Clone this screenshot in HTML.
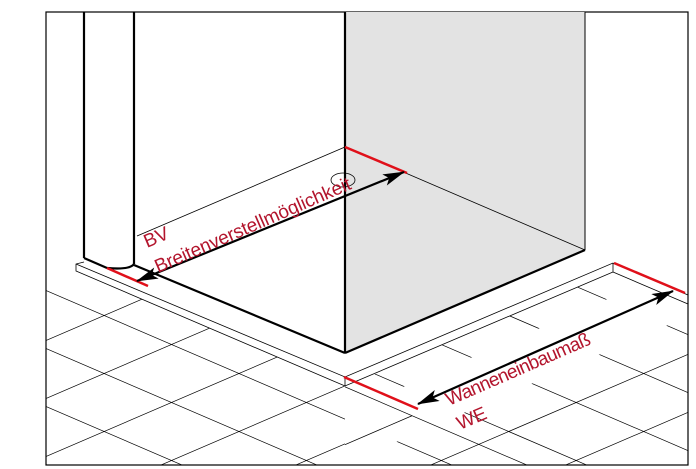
<!DOCTYPE html>
<html><head><meta charset="utf-8"><style>
html,body{margin:0;padding:0;background:#fff;width:696px;height:469px;overflow:hidden}
svg{display:block}
text{font-family:"Liberation Sans",sans-serif;fill:#b3152d;font-size:19px}
</style></head><body>
<svg width="696" height="469" viewBox="0 0 696 469" xmlns="http://www.w3.org/2000/svg">
<defs>
<clipPath id="fl"><polygon points="46,287 76,272 76,271 345,386 345,465 46,465"/></clipPath>
<clipPath id="ra"><polygon points="345,464 688,316.4 688,465 345,465"/></clipPath>
<clipPath id="rb"><polygon points="345,387 688,239.4 688,264.4 345,412"/></clipPath>
<clipPath id="rl"><polygon points="345,386 613,272 688,304 688,465 345,465"/></clipPath>
<g id="dr" stroke="#000" stroke-width="0.7">
<line x1="0" y1="-77.25" x2="800" y2="266.75"/>
<line x1="0" y1="-19.25" x2="800" y2="324.75"/>
<line x1="0" y1="38.75" x2="800" y2="382.75"/>
<line x1="0" y1="96.75" x2="800" y2="440.75"/>
<line x1="0" y1="154.75" x2="800" y2="498.75"/>
<line x1="0" y1="212.75" x2="800" y2="556.75"/>
<line x1="0" y1="270.75" x2="800" y2="614.75"/>
<line x1="0" y1="328.75" x2="800" y2="672.75"/>
<line x1="0" y1="386.75" x2="800" y2="730.75"/>
<line x1="0" y1="444.75" x2="800" y2="788.75"/>
</g>
<marker id="ah" markerWidth="22" markerHeight="12" refX="21" refY="6" orient="auto" markerUnits="userSpaceOnUse"><path d="M0,0 L22,6 L0,12 L5,6 z" fill="#000"/></marker>
<marker id="at" markerWidth="22" markerHeight="12" refX="1" refY="6" orient="auto" markerUnits="userSpaceOnUse"><path d="M22,0 L0,6 L22,12 L17,6 z" fill="#000"/></marker>
</defs>
<rect x="46" y="12" width="642" height="453" fill="#fff" stroke="#000" stroke-width="1.2"/>
<polygon points="345,12 585,12 585,250 345,353" fill="#e3e3e3"/>
<line x1="585" y1="12" x2="585" y2="250" stroke="#000" stroke-width="1"/>
<g clip-path="url(#fl)" stroke="#000" stroke-width="0.7">
<use href="#dr"/>
<line x1="0" y1="302.25" x2="800" y2="-41.75"/>
<line x1="0" y1="360.25" x2="800" y2="16.25"/>
<line x1="0" y1="418.25" x2="800" y2="74.25"/>
<line x1="0" y1="476.25" x2="800" y2="132.25"/>
<line x1="0" y1="534.25" x2="800" y2="190.25"/>
<line x1="0" y1="592.25" x2="800" y2="248.25"/>
<line x1="0" y1="650.25" x2="800" y2="306.25"/>
<line x1="0" y1="708.25" x2="800" y2="364.25"/>
<line x1="0" y1="766.25" x2="800" y2="422.25"/>
<line x1="0" y1="824.25" x2="800" y2="480.25"/>
</g>
<g clip-path="url(#rl)">
<g clip-path="url(#ra)"><use href="#dr"/></g>
<g clip-path="url(#rb)"><use href="#dr"/></g>
<g stroke="#000" stroke-width="0.7">
<line x1="0" y1="650.25" x2="800" y2="306.25"/>
<line x1="0" y1="708.25" x2="800" y2="364.25"/>
<line x1="0" y1="766.25" x2="800" y2="422.25"/>
<line x1="0" y1="824.25" x2="800" y2="480.25"/>
<line x1="345" y1="386.85" x2="528" y2="465.5"/>
<line x1="345" y1="444.65" x2="412" y2="415.75"/>
</g>
</g>
<g stroke="#000" stroke-width="0.8" fill="none">
<polyline points="84,262 76,264 76,271 345,386 613,272 613,263"/>
<polyline points="76,264 345,377 613,263 688,295"/>
<line x1="345" y1="377" x2="345" y2="386"/>
<line x1="613" y1="272" x2="688" y2="304"/>
</g>
<line x1="137" y1="236" x2="345" y2="147" stroke="#000" stroke-width="0.8"/>
<line x1="345" y1="147" x2="585" y2="250" stroke="#000" stroke-width="0.8"/>
<ellipse cx="343" cy="180" rx="12" ry="7" fill="none" stroke="#000" stroke-width="0.8"/>
<g stroke="#000" stroke-width="2.2" fill="none">
<line x1="84" y1="12" x2="84" y2="258"/>
<line x1="134" y1="12" x2="134" y2="264"/>
<path d="M107,268 Q130,270 134,264"/>
<line x1="84" y1="258" x2="107" y2="268"/>
<line x1="134" y1="265" x2="345" y2="353"/>
<line x1="345" y1="353" x2="585" y2="250"/>
<line x1="345" y1="12" x2="345" y2="353"/>
</g>
<g stroke="#e0101a" stroke-width="2.5">
<line x1="107" y1="268" x2="148" y2="286"/>
<line x1="345" y1="147" x2="407" y2="173"/>
<line x1="344" y1="377" x2="418" y2="409"/>
<line x1="614" y1="263" x2="685" y2="293"/>
</g>
<line x1="137" y1="281" x2="404" y2="172" stroke="#000" stroke-width="2.2" marker-start="url(#at)" marker-end="url(#ah)"/>
<line x1="418" y1="404" x2="673" y2="291" stroke="#000" stroke-width="2.2" marker-start="url(#at)" marker-end="url(#ah)"/>
<text transform="translate(147,248) rotate(-23)">BV</text>
<text transform="translate(158,273) rotate(-23.5)" textLength="212">Breitenverstellmöglichkeit</text>
<text transform="translate(449,406) rotate(-23.5)" textLength="156">Wanneneinbaumaß</text>
<text transform="translate(460,430) rotate(-23)">WE</text>
</svg>
</body></html>
